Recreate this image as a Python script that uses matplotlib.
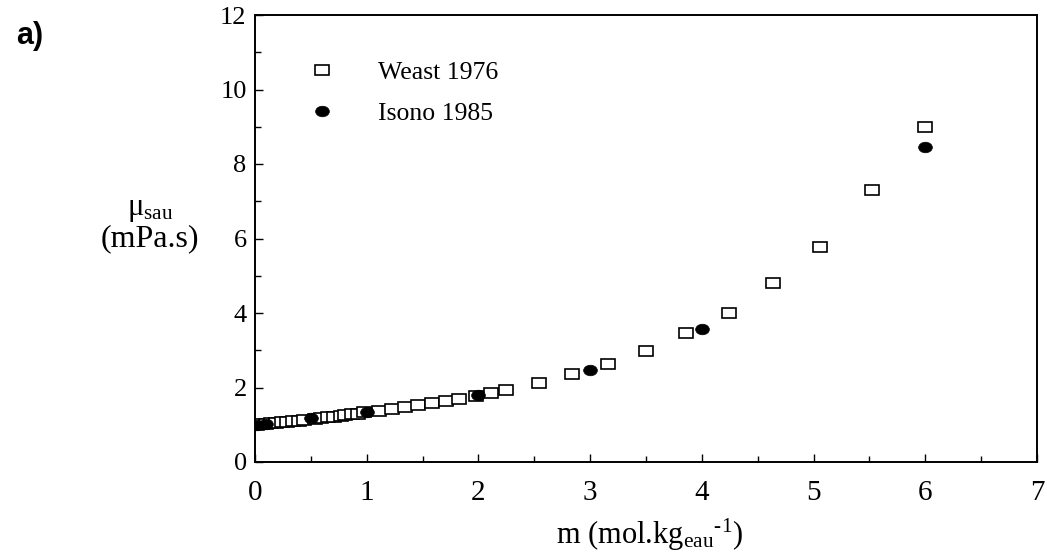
import matplotlib
matplotlib.use("Agg")
import matplotlib.pyplot as plt
from matplotlib.markers import MarkerStyle
from matplotlib.transforms import Affine2D
from matplotlib.ticker import MultipleLocator

# ---- data ----
weast_m = [0.02, 0.06, 0.10, 0.14, 0.185, 0.24, 0.29, 0.34, 0.39, 0.44, 0.54,
           0.59, 0.65, 0.71, 0.77, 0.81, 0.87, 0.92, 0.98, 1.11, 1.23, 1.34,
           1.46, 1.58, 1.71, 1.83, 1.98, 2.11, 2.25, 2.54, 2.84, 3.16, 3.50,
           3.86, 4.24, 4.64, 5.06, 5.52, 6.00]
weast_mu = [1.00, 1.01, 1.02, 1.04, 1.05, 1.07, 1.08, 1.10, 1.11, 1.13, 1.16,
            1.18, 1.20, 1.22, 1.24, 1.26, 1.28, 1.30, 1.33, 1.38, 1.42, 1.47,
            1.52, 1.58, 1.64, 1.70, 1.77, 1.85, 1.92, 2.12, 2.35, 2.62, 2.98,
            3.46, 4.01, 4.80, 5.78, 7.30, 8.98]
isono_m = [0.02, 0.10, 0.5, 1.0, 2.0, 3.0, 4.0, 6.0]
isono_mu = [1.00, 1.03, 1.19, 1.34, 1.79, 2.48, 3.58, 8.45]

xticks = [0, 1, 2, 3, 4, 5, 6, 7]
yticks = [0, 2, 4, 6, 8, 10, 12]

plt.rcParams['mathtext.fontset'] = 'custom'
plt.rcParams['mathtext.rm'] = 'Liberation Serif'
plt.rcParams['mathtext.it'] = 'Liberation Serif:italic'
serif = 'Liberation Serif'

W, H = 1047, 553
fig = plt.figure(figsize=(W / 100, H / 100), dpi=100)
ax = fig.add_axes([255 / W, (H - 462) / H, (1037 - 255) / W, (462 - 15) / H])

sq = MarkerStyle('s', transform=Affine2D().scale(1.4, 1.0))
ci = MarkerStyle('o', transform=Affine2D().scale(1.3, 1.0))

ax.plot(weast_m, weast_mu, linestyle='none', marker=sq, markersize=7.4,
        markerfacecolor='white', markeredgecolor='black', markeredgewidth=1.2,
        label='Weast 1976', zorder=3)
ax.plot(isono_m, isono_mu, linestyle='none', marker=ci, markersize=7.6,
        markerfacecolor='black', markeredgecolor='black', markeredgewidth=0.5,
        label='Isono 1985', zorder=4)

ax.set_xlim(0, 7)
ax.set_ylim(0, 12)
ax.set_xticks(xticks)
ax.set_yticks(yticks)
ax.xaxis.set_minor_locator(MultipleLocator(0.5))
ax.yaxis.set_minor_locator(MultipleLocator(1))
ax.tick_params(which='both', direction='in', top=False, right=False, width=1.0)
ax.tick_params(which='major', length=6)
ax.tick_params(which='minor', length=4)
ax.tick_params(axis='x', which='major', pad=13)
ax.tick_params(axis='y', which='major', pad=6)
for lab in ax.get_xticklabels():
    lab.set_fontfamily(serif)
    lab.set_fontsize(21)
for lab in ax.get_yticklabels():
    lab.set_fontfamily(serif)
    lab.set_fontsize(19)
for sp in ax.spines.values():
    sp.set_linewidth(1.4)

leg = ax.legend(loc='upper left', bbox_to_anchor=(303 / W, (H - 61) / H),
                bbox_transform=fig.transFigure, frameon=False, borderpad=0,
                borderaxespad=0, handlelength=1.5, handletextpad=1.43,
                labelspacing=0.72, prop={'family': serif, 'size': 18.5})

fig.text(650 / W, 1 - 535 / H, 'm (mol.kg$_{\\mathrm{eau}}{}^{\\mathrm{\u20101}}$)',
         ha='center', va='center', fontsize=22, family=serif)
fig.text(150 / W, 1 - 210 / H, r'μ$_{\mathrm{sau}}$',
         ha='center', va='center', fontsize=22, family=serif)
fig.text(150 / W, 1 - 239 / H, '(mPa.s)',
         ha='center', va='center', fontsize=23, family=serif)
fig.text(30 / W, 1 - 36 / H, 'a)', ha='center', va='center', fontsize=22,
         fontweight='bold', family='Liberation Sans')

fig.savefig('out.png', dpi=100)
